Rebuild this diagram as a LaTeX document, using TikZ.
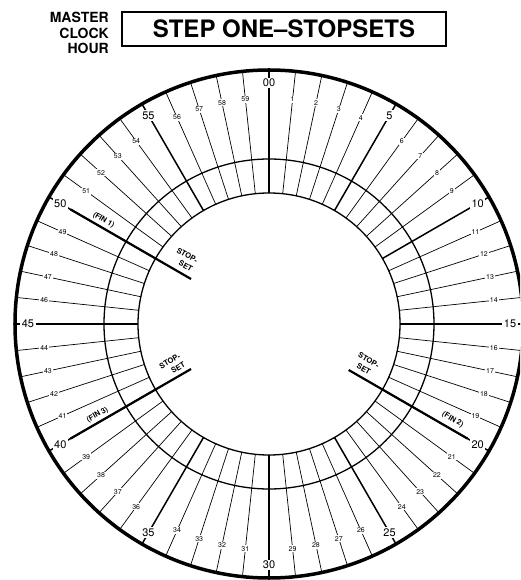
\documentclass[tikz,border=0pt]{standalone}
\usepackage{fontspec}
\setmainfont{TeX Gyre Heros}
\usetikzlibrary{calc}
\begin{document}
\begin{tikzpicture}[x=1pt,y=1pt,
  minline/.style={line width=0.7pt},
  majline/.style={line width=1.5pt},
  stopline/.style={line width=2.2pt},
  ringline/.style={line width=1.3pt},
  outerring/.style={line width=3.5pt},
  minlab/.style={fill=white,inner sep=1pt,font=\fontsize{7}{8}\selectfont},
  majlab/.style={fill=white,inner sep=1.5pt,font=\fontsize{11}{12}\selectfont},
  finlab/.style={font=\bfseries\fontsize{7.5}{9}\selectfont,inner sep=0.5pt},
  stoplab/.style={font=\bfseries\fontsize{7.5}{10}\selectfont,inner sep=0.5pt},
]
\useasboundingbox (-269,-256) rectangle (251,324);
\clip (-269,-256) rectangle (251,324);
\fill[white] (-269,-256) rectangle (251,324);

% header
\node[anchor=east, align=right, inner sep=0pt,
      font=\bfseries\fontsize{14}{15.5}\selectfont] (mch) at (-160,291)
      {MASTER\\CLOCK\\HOUR};
\node[draw, line width=1.6pt, minimum width=324, minimum height=34, inner sep=0pt,
      font=\bfseries\fontsize{24}{28}\selectfont] (title) at (15,295)
      {STEP ONE–STOPSETS};

% rings
\coordinate (C) at (0,0);
\draw[ringline] (C) circle[radius=131];
\draw[ringline] (C) circle[radius=165];

% minute lines
\foreach \m in {0,...,59} {
  \pgfmathtruncatemacro\rr{mod(\m,5)}
  \ifnum\rr=0
    \draw[majline] ({90-6*\m}:131) -- ({90-6*\m}:254);
  \else
    \draw[minline] ({90-6*\m}:131) -- ({90-6*\m}:254);
  \fi
}

% stopset lines
\draw[stopline] (150:90) -- (150:229);
\draw[stopline] (-30:92) -- (-30:229);
\draw[stopline] (210:90) -- (210:229);

% minute labels
\foreach \m in {1,...,59} {
  \pgfmathtruncatemacro\rr{mod(\m,5)}
  \ifnum\rr=0
    \node[majlab] (lab\m) at ({90-6*\m}:241) {\m};
  \else
    \node[minlab] (lab\m) at ({90-6*\m}:226) {\m};
  \fi
}
\node[majlab] (lab0) at (90:241) {00};

% stopset labels
\node[finlab, rotate=-30] (fin1) at ($(150:195)+(60:7)$) {(FIN 1)};
\node[stoplab, rotate=-30, align=left] (stop1) at ($(150:105)+(60:13.5)$)
      {STOP-\\\hspace*{8pt}SET};

\node[finlab, rotate=-30] (fin2) at ($(-30:207)+(60:9)$) {(FIN 2)};
\node[stoplab, rotate=-30, align=center] (stop2) at ($(-30:104.5)+(60:13.5)$)
      {STOP-\\SET};

\node[finlab, rotate=30] (fin3) at ($(210:194)+(120:7)$) {(FIN 3)};
\node[stoplab, rotate=30, align=left] (stop3) at ($(210:104.5)+(120:12.5)$)
      {STOP-\\\hspace*{8pt}SET};

% outer ring
\draw[outerring] (C) circle[radius=254];
\end{tikzpicture}
\end{document}
